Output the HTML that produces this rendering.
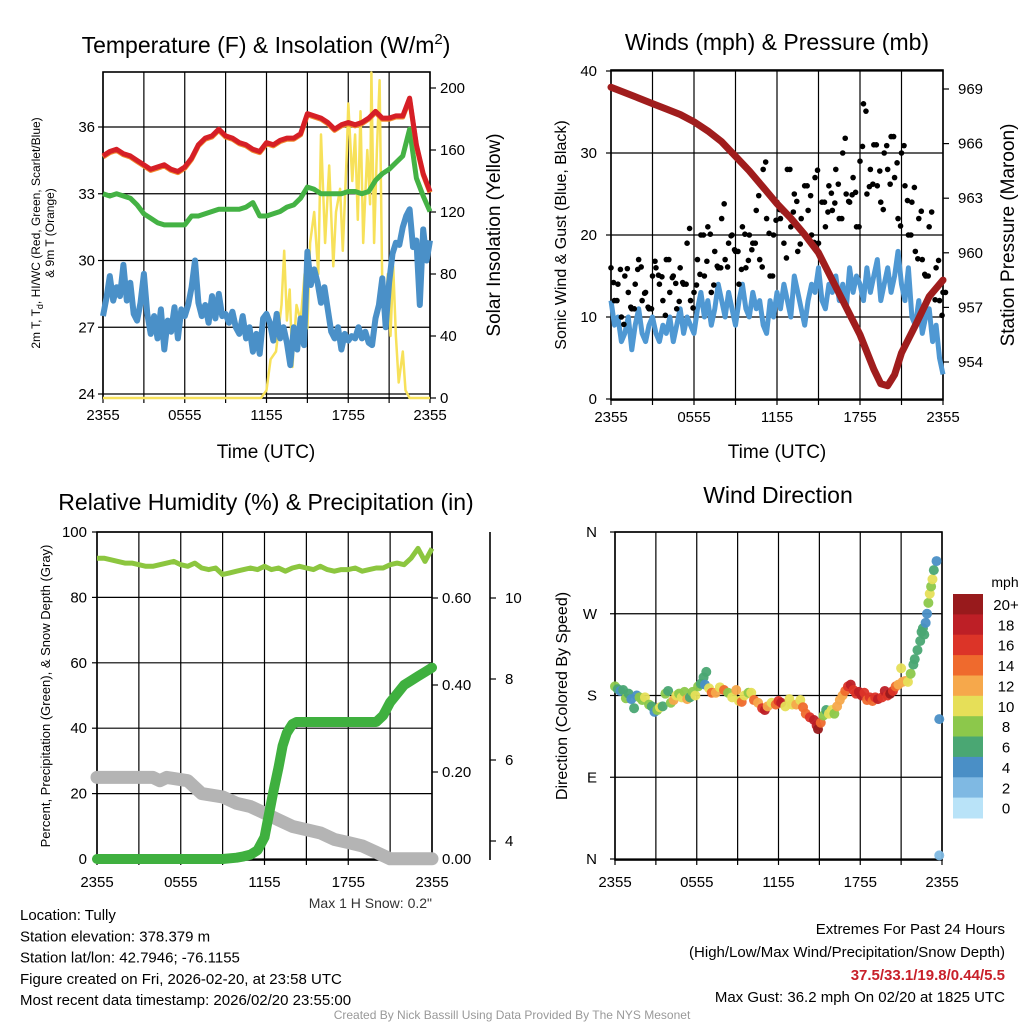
<!DOCTYPE html>
<html><head><meta charset="utf-8"><style>
body{margin:0;background:#fff}
svg{display:block;font-family:"Liberation Sans",sans-serif}
</style></head><body>
<svg id="s" width="1024" height="1024" viewBox="0 0 1024 1024"></svg>
<script>
// ---------- DATA ----------
const timeLabels=["2355","0555","1155","1755","2355"];
const tempLeftTicks=[24,27,30,33,36];
const solarTicks=[0,40,80,120,160,200];
const tempRed=[34.7,34.9,35.0,34.8,34.7,34.5,34.3,34.1,34.2,34.3,34.1,34.0,34.2,34.6,35.2,35.5,35.6,35.9,35.6,35.5,35.3,35.2,35.0,34.9,35.3,35.2,35.4,35.5,35.5,35.7,36.6,36.5,36.4,36.2,35.9,36.1,36.2,36.1,36.2,36.4,36.7,36.4,36.4,36.5,36.5,37.3,35.2,33.9,33.1];
const tempGreen=[33.0,32.9,33.0,32.9,32.8,32.5,32.1,31.9,31.7,31.6,31.6,31.6,31.6,32.0,32.0,32.1,32.2,32.3,32.3,32.3,32.3,32.4,32.6,32.0,32.0,32.1,32.2,32.4,32.5,32.8,33.3,33.2,33.0,33.0,33.0,33.0,33.1,33.1,33.0,33.1,33.6,33.9,34.1,34.4,34.7,35.9,33.7,32.9,32.2];
const tempBlue=[27.5,28.3,29.3,28.2,28.8,28.4,29.8,28.2,29.0,27.6,27.3,28.1,29.4,27.6,26.7,27.5,26.5,27.8,26.0,27.3,26.8,27.9,26.5,27.8,27.5,28.0,28.8,30.0,28.1,27.5,28.0,27.2,28.4,27.4,28.5,27.5,27.6,27.2,27.7,27.0,26.7,27.5,26.5,27.0,25.9,26.7,25.8,27.4,27.6,27.2,26.4,27.6,26.5,27.0,26.3,25.3,27.0,26.0,27.4,26.2,30.4,28.9,29.6,29.0,28.1,28.8,27.8,26.8,26.5,27.0,26.0,26.7,26.4,26.6,26.5,27.0,26.5,26.8,26.3,26.2,27.4,28.0,29.2,27.0,29.0,30.3,30.8,30.7,31.5,32.0,32.3,30.6,30.9,28.0,31.4,30.0,30.9];
const solarTimes=[0,11.6,12,12.3,12.7,13.1,13.3,13.5,13.7,13.9,14.2,14.5,14.8,15.0,15.2,15.5,15.8,16,16.3,16.6,16.9,17.1,17.4,17.6,17.9,18.0,18.3,18.5,18.7,18.9,19.1,19.4,19.6,19.7,19.9,20.1,20.3,20.5,20.7,20.9,21.1,21.3,21.5,21.7,22,22.2,22.5,24];
const solarValues=[0,0,5,25,30,60,95,50,70,20,60,50,80,45,100,120,80,170,100,150,85,120,135,95,160,190,140,170,115,185,100,160,125,210,100,160,205,70,50,80,40,85,40,10,30,5,0,0];

const windTicks=[0,10,20,30,40];
const pressTicks=[954,957,960,963,966,969];
const gustValues=[16,12,14,10,15,13,11,14,17,12,13,11,15,16,14,12,17,13,15,11,16,14,19,12,13,17,20,15,21,13,18,16,22,17,19,20,18,14,21,16,20,19,23,17,28,22,15,20,24,22,19,28,21,25,18,22,26,23,20,27,19,24,21,26,23,28,22,30,25,24,27,21,29,36,25,28,31,26,24,30,28,32,27,22,30,26,20,24,18,22,17,15,21,13,16,12,13];
const windValues=[12,9,10,7,8,10,6,9,11,8,7,9,10,8,7,9,8,10,7,9,11,8,10,9,8,11,13,10,12,9,11,14,12,10,13,11,9,12,14,11,10,13,11,12,9,8,12,10,13,11,14,12,10,15,13,11,9,12,14,13,16,12,11,14,13,15,12,14,11,16,13,15,14,12,16,13,15,17,12,14,16,13,15,18,14,12,16,10,9,12,8,10,11,7,9,5,3];
const pressTimes=[0,1,2,3,4,5,6,7,8,9,10,11,12,13,14,15,16,17,18,19,19.5,20,20.5,21,22,23,24];
const pressValues=[969.1,968.8,968.5,968.2,967.9,967.6,967.2,966.7,966.1,965.3,964.5,963.6,962.7,961.9,961.0,960.0,958.5,957.0,955.5,953.6,952.8,952.7,953.3,954.5,956.0,957.6,958.5];

const rhTicks=[0,20,40,60,80,100];
const precipTicks=[0,0.2,0.4,0.6];
const snowTicks=[4,6,8,10];
const rhValues=[92,92,91.5,91,90.5,90.5,90,89.5,89.5,90,90.5,91,90,89.5,90.5,89,88.5,89,87,87.5,88,88.5,89,88.5,89.5,88.5,89,88,89,89.5,89,88.5,89.5,88.5,88,88.5,88.5,89,88,88.5,89,89,90,90.5,90,92,95,91,95];
const precipTimes=[0,9,10,10.5,11,11.5,12,12.3,12.6,13,13.3,13.6,14,14.3,20,20.5,21,21.5,22,22.5,23,23.5,24];
const precipValues=[0,0,0.003,0.006,0.01,0.02,0.05,0.10,0.15,0.21,0.26,0.29,0.31,0.315,0.315,0.33,0.36,0.38,0.40,0.41,0.42,0.43,0.44];
const snowTimes=[0,4,4.5,5,6.5,7.5,9,10,11,12,13,14,15,16,17,18,19,20,21,24];
const snowValues=[5.57,5.57,5.49,5.57,5.49,5.17,5.09,4.93,4.85,4.69,4.52,4.36,4.28,4.2,4.04,3.96,3.88,3.72,3.56,3.56];

const dirLabels=["N","E","S","W","N"];
const dirTimes=[0,0.2,0.4,0.6,0.8,1.0,1.2,1.4,1.6,1.8,2.0,2.2,2.5,2.7,2.9,3.1,3.3,3.5,3.7,3.9,4.1,4.3,4.5,4.7,4.9,5.1,5.3,5.5,5.7,5.9,6.1,6.3,6.5,6.7,6.6,6.9,7.1,7.4,7.7,8.0,8.3,8.6,8.9,9.1,9.3,9.5,9.8,10.0,10.2,10.5,10.8,11.0,11.2,11.5,11.8,12.0,12.2,12.5,12.8,13.0,13.3,13.6,13.8,14.0,14.3,14.6,14.8,14.9,15.1,15.3,15.5,15.7,15.9,16.1,16.3,16.5,16.7,16.9,17.1,17.3,17.5,17.7,17.9,18.1,18.3,18.5,18.7,18.9,19.1,19.3,19.6,19.8,20.0,20.2,20.4,20.6,20.8,21.0,21.1,21.3,21.5,21.7,21.9,22.0,22.2,22.4,22.5,22.6,22.7,22.8,22.9,23.0,23.1,23.2,23.3,23.4,23.6,23.8,23.8];
const dirValues=[190,187,185,186,177,182,176,166,180,178,175,178,170,168,162,164,167,168,182,185,172,175,180,182,178,184,176,178,184,180,190,193,200,206,192,188,183,183,189,186,183,178,186,174,173,180,183,183,175,172,166,164,168,172,170,174,172,168,176,170,170,175,167,160,156,153,147,143,150,158,164,160,164,160,168,175,180,185,190,192,186,182,184,180,183,175,178,174,178,176,178,185,180,182,185,190,192,210,195,196,195,204,214,220,230,240,250,254,247,260,270,282,292,300,308,318,328,154,4];
const dirSpeeds=[8,6,4,6,8,6,4,6,4,8,8,10,8,6,4,8,10,6,8,6,8,12,10,8,10,8,12,6,8,10,8,6,6,6,4,10,14,12,10,14,8,10,12,10,14,10,8,10,14,12,16,18,12,10,14,16,18,10,10,10,12,10,14,14,16,18,18,20,14,8,6,10,10,8,12,12,12,14,16,18,16,16,18,18,16,14,16,14,16,18,16,18,16,20,16,14,12,10,12,12,10,8,6,6,6,6,6,6,6,4,4,8,10,8,10,6,4,4,2,2];
const cbLabels=["20+","18","16","14","12","10","8","6","4","2","0"];
const cbColors=["#981a1c","#bd1f26","#dc3428","#ef6a2d","#f6a84b","#e6df58","#8cc84b","#4aa773","#4a8fc6","#7fb9e3","#b9e3f8"];

// ---------- HELPERS ----------
const S=document.getElementById('s');const NS='http://www.w3.org/2000/svg';
function mk(tag,at,parent){const e=document.createElementNS(NS,tag);for(const k in at)e.setAttribute(k,at[k]);(parent||S).appendChild(e);return e;}
function txt(x,y,s,size,anchor,extra){const e=mk('text',Object.assign({x:x,y:y,'font-size':size,'text-anchor':anchor||'middle',fill:'#000'},extra||{}));e.textContent=s;return e;}
function lin(a0,a1,b0,b1){return v=>b0+(v-a0)*(b1-b0)/(a1-a0);}
function pathFrom(ts,vs,fx,fy){let d='';for(let i=0;i<vs.length;i++){d+=(i?'L':'M')+fx(ts[i]).toFixed(1)+','+fy(vs[i]).toFixed(1);}return d;}
function idxT(n){return Array.from({length:n},(_,i)=>i*24/(n-1));}
function frame(p,name,ly){
  const g=mk('g',{});
  const fx=lin(0,24,p.x0,p.x1);
  for(let h=0;h<=24;h+=3){const x=fx(h);mk('line',{x1:x,x2:x,y1:p.y0,y2:p.y1,stroke:'#000','stroke-width':1.2},g);mk('line',{x1:x,x2:x,y1:p.y1,y2:p.y1+5,stroke:'#000','stroke-width':1.2},g);}
  timeLabels.forEach((l,i)=>{const t=txt(fx(i*6),ly||p.y1+23,l,15);});
  mk('rect',{x:p.x0,y:p.y0,width:p.x1-p.x0,height:p.y1-p.y0,fill:'none',stroke:'#000','stroke-width':1.6},g);
  return fx;
}
function hgrid(p,fy,ticks,labels,lx){
  ticks.forEach((v,i)=>{const y=fy(v);mk('line',{x1:p.x0,x2:p.x1,y1:y,y2:y,stroke:'#000','stroke-width':1.2});mk('line',{x1:p.x0-5,x2:p.x0,y1:y,y2:y,stroke:'#000','stroke-width':1.2});
   const t=txt(lx,y+5,labels?labels[i]:String(v),15,'end');});
}
function rightAxis(x,fy,ticks,fmt,lx,y0,y1){
  if(y0!==undefined)mk('line',{x1:x,x2:x,y1:y0,y2:y1,stroke:'#000','stroke-width':1.6});
  ticks.forEach(v=>{const y=fy(v);mk('line',{x1:x,x2:x+6,y1:y,y2:y,stroke:'#000','stroke-width':1.2});const t=txt(lx,y+5,fmt(v),15,'start');});
}
function rot(x,y,s,size,name){const t=txt(0,0,s,size,'middle',{transform:`translate(${x},${y}) rotate(-90)`});return t;}

// ---------- PANEL 1 ----------
const p1={x0:103,x1:430,y0:72,y1:398};
let fx=frame(p1,'temperature-panel',420);
let fy=lin(24,36,394,127);
const fs=lin(0,200,398,88);
hgrid(p1,fy,tempLeftTicks,null,95);
rightAxis(p1.x1,fs,solarTicks,v=>String(v),440);
let e;
e=mk('path',{d:pathFrom(solarTimes,solarValues,fx,fs),fill:'none',stroke:'#f7e15a','stroke-width':2.5,'stroke-linejoin':'round'});
e=mk('path',{d:pathFrom(idxT(tempBlue.length),tempBlue,fx,fy),fill:'none',stroke:'#4a90c8','stroke-width':6,'stroke-linejoin':'round'});
e=mk('path',{d:pathFrom(idxT(tempGreen.length),tempGreen,fx,fy),fill:'none',stroke:'#44b244','stroke-width':5,'stroke-linejoin':'round'});
e=mk('path',{d:pathFrom(idxT(tempRed.length),tempRed.map(v=>v-0.05),fx,fy),fill:'none',stroke:'#f28b2e','stroke-width':5,'stroke-linejoin':'round'});
e=mk('path',{d:pathFrom(idxT(tempRed.length),tempRed,fx,fy),fill:'none',stroke:'#d61f26','stroke-width':5,'stroke-linejoin':'round'});
e=txt(266,53,'',23);
e.innerHTML='Temperature (F) &amp; Insolation (W/m<tspan font-size="15" dy="-9">2</tspan><tspan dy="9">)</tspan>';
e=txt(266,458,'Time (UTC)',19);
e=txt(0,0,'',12,'middle',{transform:'translate(40,233) rotate(-90)'});
e.innerHTML='<tspan x="0" dy="0">2m T, T<tspan font-size="9" dy="3">d</tspan><tspan dy="-3">, HI/WC (Red, Green, Scarlet/Blue)</tspan></tspan><tspan x="0" dy="14">&amp; 9m T (Orange)</tspan>';
rot(500,235,'Solar Insolation (Yellow)',19,'solar-y-axis-title');

// ---------- PANEL 2 ----------
const p2={x0:611,x1:943,y0:70,y1:400};
fx=frame(p2,'winds-panel',422);
fy=lin(0,40,399,71);
const fp=lin(954,969,362,89);
hgrid(p2,fy,windTicks,null,597);
rightAxis(p2.x1,fp,pressTicks,v=>String(v),958);
e=mk('path',{d:pathFrom(idxT(windValues.length),windValues,fx,fy),fill:'none',stroke:'#4f98d3','stroke-width':5,'stroke-linejoin':'round'});
const gt=idxT(gustValues.length);
gustValues.forEach((v,i)=>{const c=mk('circle',{cx:fx(gt[i]),cy:fy(v),r:2.8,fill:'#000'});
  const c2=mk('circle',{cx:fx(gt[i])+2.5,cy:fy(v+((i*7)%5-2)*0.9),r:2.8,fill:'#000'});});
e=mk('path',{d:pathFrom(pressTimes,pressValues,fx,fp),fill:'none',stroke:'#a01d1d','stroke-width':7,'stroke-linejoin':'round','stroke-linecap':'round'});
e=txt(777,50,'Winds (mph) & Pressure (mb)',23);
e=txt(777,458,'Time (UTC)',19);
rot(566,235,'Sonic Wind & Gust (Blue, Black)',16,'wind-y-axis-title');
rot(1014,235,'Station Pressure (Maroon)',19,'pressure-y-axis-title');

// ---------- PANEL 3 ----------
const p3={x0:97,x1:432,y0:532,y1:860};
fx=frame(p3,'humidity-panel',887);
fy=lin(0,100,859,532);
const fpr=lin(0,0.6,859,598);
const fsn=lin(4,10,841,598);
hgrid(p3,fy,rhTicks,null,87);
rightAxis(p3.x1,fpr,precipTicks,v=>v.toFixed(2),442);
rightAxis(490,fsn,snowTicks,v=>String(v),505,532,860);
e=mk('path',{d:pathFrom(snowTimes,snowValues,fx,fsn),fill:'none',stroke:'#b4b4b4','stroke-width':13,'stroke-linejoin':'round','stroke-linecap':'round'});
e=mk('path',{d:pathFrom(precipTimes,precipValues,fx,fpr),fill:'none',stroke:'#3fb03f','stroke-width':10,'stroke-linejoin':'round','stroke-linecap':'round'});
e=mk('path',{d:pathFrom(idxT(rhValues.length),rhValues,fx,fy),fill:'none',stroke:'#8cc63f','stroke-width':5,'stroke-linejoin':'round'});
e=txt(266,510,'Relative Humidity (%) & Precipitation (in)',23);
rot(50,696,'Percent, Precipitation (Green), & Snow Depth (Gray)',13,'humidity-y-axis-title');
e=txt(432,908,'Max 1 H Snow: 0.2"',14,'end',{fill:'#333'});

// ---------- PANEL 4 ----------
const p4={x0:615,x1:942,y0:532,y1:860};
fx=frame(p4,'wind-direction-panel',887);
fy=lin(0,360,859,532);
hgrid(p4,fy,[0,90,180,270,360],["N","E","S","W","N"],597);
function spdColor(s){const idx=Math.min(10,Math.max(0,Math.floor(s/2)));return cbColors[10-idx];}
dirValues.forEach((v,i)=>{const c=mk('circle',{cx:fx(dirTimes[i]),cy:fy(v),r:5,fill:spdColor(dirSpeeds[i]),'fill-opacity':0.95});});
e=txt(778,503,'Wind Direction',23);
rot(567,696,'Direction (Colored By Speed)',16,'direction-y-axis-title');
e=txt(1005,587,'mph',14);
const cbStep=224/11;
cbColors.forEach((c,i)=>{const r=mk('rect',{x:953,y:(594+i*cbStep).toFixed(1),width:30,height:(cbStep+0.5).toFixed(1),fill:c});
 const t=txt(1006,594+i*cbStep+16,cbLabels[i],15);});

// ---------- FOOTER ----------
const info=["Location: Tully","Station elevation: 378.379 m","Station lat/lon: 42.7946; -76.1155","Figure created on Fri, 2026-02-20, at 23:58 UTC","Most recent data timestamp: 2026/02/20 23:55:00"];
info.forEach((s,i)=>{const t=txt(20,920+i*21.3,s,15,'start');});
e=txt(1005,934,'Extremes For Past 24 Hours',15,'end');
e=txt(1005,957,'(High/Low/Max Wind/Precipitation/Snow Depth)',15,'end');
e=txt(1005,980,'37.5/33.1/19.8/0.44/5.5',15,'end',{fill:'#c8202a','font-weight':'bold'});
e=txt(1005,1002,'Max Gust: 36.2 mph On 02/20 at 1825 UTC',15,'end');
e=txt(512,1019,'Created By Nick Bassill Using Data Provided By The NYS Mesonet',12,'middle',{fill:'#999'});
</script>
</body></html>
